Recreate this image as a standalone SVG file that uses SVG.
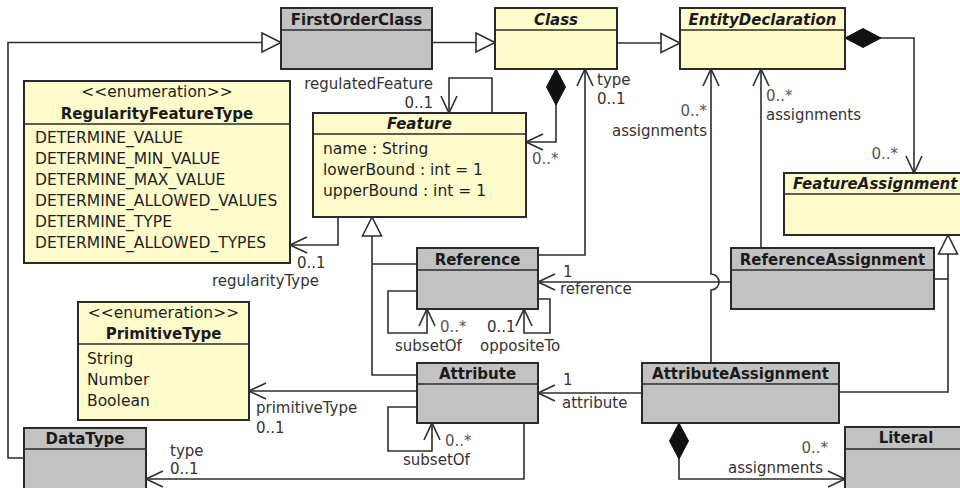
<svg xmlns="http://www.w3.org/2000/svg" width="960" height="488" viewBox="0 0 960 488">
<defs>
<style>
.box{stroke:#2a2a2a;stroke-width:2}
.y{fill:#fffccc}
.g{fill:#c2c2c2}
.sep{stroke:#2a2a2a;stroke-width:1.6}
.t{font-family:"DejaVu Sans","Liberation Sans",sans-serif;font-size:15px;font-weight:bold;fill:#1a1a1a;text-anchor:middle}
.ti{font-style:italic}
.a{font-family:"DejaVu Sans","Liberation Sans",sans-serif;font-size:15.5px;fill:#1e1e1e}
.l{font-family:"DejaVu Sans","Liberation Sans",sans-serif;font-size:15px;fill:#333}
.m{fill:#555}
.e{text-anchor:end}
.c{text-anchor:middle}
.cn path{fill:none;stroke:#2e2e2e;stroke-width:1.6}
</style>
<marker id="open" viewBox="-20 -10 22 20" refX="0" refY="0" markerWidth="22" markerHeight="20" markerUnits="userSpaceOnUse" orient="auto">
<path d="M-17,-8 L0,0 L-17,8" fill="none" stroke="#2e2e2e" stroke-width="1.6"/>
</marker>
<marker id="tri" viewBox="-21 -11 23 22" refX="0" refY="0" markerWidth="23" markerHeight="22" markerUnits="userSpaceOnUse" orient="auto">
<path d="M-19,-9.5 L0,0 L-19,9.5 Z" fill="#ffffff" stroke="#2e2e2e" stroke-width="1.6"/>
</marker>
<marker id="dia" viewBox="-2 -11 40 22" refX="0" refY="0" markerWidth="40" markerHeight="22" markerUnits="userSpaceOnUse" orient="auto">
<path d="M0,0 L18,-9.5 L36,0 L18,9.5 Z" fill="#111" stroke="#111" stroke-width="1"/>
</marker>
</defs>
<rect x="0" y="0" width="960" height="488" fill="#ffffff"/>

<g id="connectors" class="cn">
<path d="M24,458 L8,458 L8,42.5 L281,42.5" marker-end="url(#tri)"/>
<path d="M432,42.5 L495,42.5" marker-end="url(#tri)"/>
<path d="M617,43 L680,43" marker-end="url(#tri)"/>
<path d="M845,38 L914,38 L914,173" marker-start="url(#dia)" marker-end="url(#open)"/>
<path d="M556,69 L556,142 L526,142" marker-start="url(#dia)" marker-end="url(#open)"/>
<path d="M492,113 L492,78 L449,78 L449,113" marker-end="url(#open)"/>
<path d="M338,217 L338,245 L290,245" marker-end="url(#open)"/>
<path d="M417,375 L372,375 L372,217" marker-end="url(#tri)"/>
<path d="M417,264 L372,264"/>
<path d="M538,255 L585,255 L585,69" marker-end="url(#open)"/>
<path d="M417,291 L388,291 L388,333 L427,333 L427,309" marker-end="url(#open)"/>
<path d="M538,299 L550,299 L550,333 L524,333 L524,309" marker-end="url(#open)"/>
<path d="M731,282 L538,282" marker-end="url(#open)"/>
<path d="M711,363 L711,290 A8,8 0 0 0 711,274 L711,69" marker-end="url(#open)"/>
<path d="M761,248 L761,69" marker-end="url(#open)"/>
<path d="M839,392 L948,392 L948,235" marker-end="url(#tri)"/>
<path d="M934,279 L948,279"/>
<path d="M642,393 L538,393" marker-end="url(#open)"/>
<path d="M417,391 L249,391" marker-end="url(#open)"/>
<path d="M417,407 L388,407 L388,451 L432,451 L432,423" marker-end="url(#open)"/>
<path d="M524,423 L524,479 L146,479" marker-end="url(#open)"/>
<path d="M679,423 L679,479 L845,479" marker-start="url(#dia)" marker-end="url(#open)"/>
</g>

<g id="labels">
<text class="l m e" x="898" y="159">0..*</text>
<text class="l m" x="532" y="164">0..*</text>
<text class="l e" x="433" y="89">regulatedFeature</text>
<text class="l e" x="433" y="108">0..1</text>
<text class="l" x="297" y="268">0..1</text>
<text class="l" x="212" y="286">regularityType</text>
<text class="l" x="597" y="85">type</text>
<text class="l" x="597" y="104">0..1</text>
<text class="l m" x="440" y="332">0..*</text>
<text class="l" x="395" y="351">subsetOf</text>
<text class="l" x="487" y="332">0..1</text>
<text class="l" x="480" y="351">oppositeTo</text>
<text class="l" x="563" y="277">1</text>
<text class="l" x="560" y="294">reference</text>
<text class="l m e" x="707" y="116">0..*</text>
<text class="l e" x="707" y="136">assignments</text>
<text class="l m" x="766" y="101">0..*</text>
<text class="l" x="766" y="120">assignments</text>
<text class="l" x="563" y="385">1</text>
<text class="l" x="562" y="408">attribute</text>
<text class="l" x="256" y="413">primitiveType</text>
<text class="l" x="256" y="433">0..1</text>
<text class="l m" x="445" y="446">0..*</text>
<text class="l" x="403" y="465">subsetOf</text>
<text class="l" x="170" y="456">type</text>
<text class="l" x="170" y="474">0..1</text>
<text class="l m e" x="828" y="453">0..*</text>
<text class="l e" x="823" y="473">assignments</text>
</g>

<g id="FirstOrderClass">
<rect class="box g" x="281" y="8" width="151" height="61"/>
<line class="sep" x1="281" y1="30" x2="432" y2="30"/>
<text class="t" x="356.5" y="25">FirstOrderClass</text>
</g>

<g id="Class">
<rect class="box y" x="495" y="8" width="122" height="61"/>
<line class="sep" x1="495" y1="30" x2="617" y2="30"/>
<text class="t ti" x="556" y="25">Class</text>
</g>

<g id="EntityDeclaration">
<rect class="box y" x="680" y="8" width="165" height="61"/>
<line class="sep" x1="680" y1="30" x2="845" y2="30"/>
<text class="t ti" x="762.5" y="25">EntityDeclaration</text>
</g>

<g id="FeatureAssignment">
<rect class="box y" x="784" y="173" width="190" height="62"/>
<line class="sep" x1="784" y1="194" x2="974" y2="194"/>
<text class="t ti" x="793" y="189" style="text-anchor:start">FeatureAssignment</text>
</g>

<g id="RegularityFeatureType">
<rect class="box y" x="24" y="81" width="266" height="182"/>
<line class="sep" x1="24" y1="124" x2="290" y2="124"/>
<text class="a c" x="157" y="97">&lt;&lt;enumeration&gt;&gt;</text>
<text class="t" x="157" y="119">RegularityFeatureType</text>
<text class="a" x="35" y="143">DETERMINE_VALUE</text>
<text class="a" x="35" y="164">DETERMINE_MIN_VALUE</text>
<text class="a" x="35" y="185">DETERMINE_MAX_VALUE</text>
<text class="a" x="35" y="206">DETERMINE_ALLOWED_VALUES</text>
<text class="a" x="35" y="227">DETERMINE_TYPE</text>
<text class="a" x="35" y="248">DETERMINE_ALLOWED_TYPES</text>
</g>

<g id="Feature">
<rect class="box y" x="313" y="113" width="213" height="104"/>
<line class="sep" x1="313" y1="134" x2="526" y2="134"/>
<text class="t ti" x="419.5" y="129">Feature</text>
<text class="a" x="323" y="154">name : String</text>
<text class="a" x="323" y="175">lowerBound : int = 1</text>
<text class="a" x="323" y="196">upperBound : int = 1</text>
</g>

<g id="Reference">
<rect class="box g" x="417" y="248" width="121" height="61"/>
<line class="sep" x1="417" y1="270" x2="538" y2="270"/>
<text class="t" x="477.5" y="265">Reference</text>
</g>

<g id="Attribute">
<rect class="box g" x="417" y="363" width="121" height="60"/>
<line class="sep" x1="417" y1="384" x2="538" y2="384"/>
<text class="t" x="477.5" y="379">Attribute</text>
</g>

<g id="PrimitiveType">
<rect class="box y" x="78" y="302" width="171" height="118"/>
<line class="sep" x1="78" y1="344" x2="249" y2="344"/>
<text class="a c" x="163.5" y="318">&lt;&lt;enumeration&gt;&gt;</text>
<text class="t" x="163.5" y="339">PrimitiveType</text>
<text class="a" x="87" y="364">String</text>
<text class="a" x="87" y="385">Number</text>
<text class="a" x="87" y="406">Boolean</text>
</g>

<g id="DataType">
<rect class="box g" x="24" y="428" width="122" height="70"/>
<line class="sep" x1="24" y1="449" x2="146" y2="449"/>
<text class="t" x="85" y="444">DataType</text>
</g>

<g id="ReferenceAssignment">
<rect class="box g" x="731" y="248" width="203" height="61"/>
<line class="sep" x1="731" y1="270" x2="934" y2="270"/>
<text class="t" x="832.5" y="265">ReferenceAssignment</text>
</g>

<g id="AttributeAssignment">
<rect class="box g" x="642" y="363" width="197" height="60"/>
<line class="sep" x1="642" y1="384" x2="839" y2="384"/>
<text class="t" x="740.5" y="379">AttributeAssignment</text>
</g>

<g id="Literal">
<rect class="box g" x="845" y="427" width="125" height="70"/>
<line class="sep" x1="845" y1="449" x2="970" y2="449"/>
<text class="t" x="906" y="443">Literal</text>
</g>
</svg>
